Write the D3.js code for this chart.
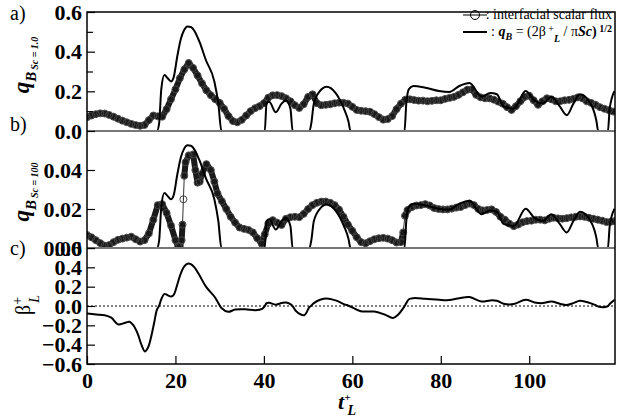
<!DOCTYPE html>
<meta charset="utf-8">
<script src="https://d3js.org/d3.v7.min.js"></script>
<style type="text/css">
body { margin: 0; background: #fff; }
svg text { font-family: "Liberation Serif", "Times New Roman", serif; fill: #000; }
.tick text { font-size: 22px; font-weight: bold; }
.tick line { stroke: #000; stroke-width: 1.2; }
.flux { fill: none; stroke: #000; stroke-width: 1; }
.qline { fill: none; stroke: #000; stroke-width: 2; }
</style>
<body>
<div id="canvas"></div>
<script>

// time axis of beta+_L
var tBeta = [0, 2, 4, 5.5, 7, 8.5, 9.6, 10.5, 11.5, 12.3, 13.1, 13.8, 14.5, 15.2, 15.8, 16.3, 16.8, 17.5, 18.3, 19.0, 19.6,
  20.4, 21.2, 22, 22.7, 23.5, 24.3, 25.4, 26.9, 28.8, 29.7, 30.4, 31.9, 33.5, 35.8, 38.1, 39.6, 40.2, 40.6, 41.2, 42.7,
  44, 45, 46.0, 46.5, 47.3, 49.1, 50.3, 50.7, 51.3, 52.7, 54.2, 56.2, 58.1, 59.1, 59.6, 61.9, 65, 67.3, 69.2, 70.4,
  71.8, 72.2, 72.8, 73.8, 76.5, 79.6, 81.9, 84.2, 86.5, 89.2, 91.2, 92.7, 94.2, 96.5, 99.2, 101.2, 103.1, 105, 106.9,
  108.5, 110, 111.5, 114.2, 115.2, 115.6, 116.9, 117.8, 118.2, 119.3];
var beta = [-0.078, -0.088, -0.095, -0.12, -0.19, -0.175, -0.163, -0.2, -0.29, -0.40, -0.47, -0.43, -0.32, -0.17, -0.04, 0.002, 0.07, 0.125, 0.11, 0.098, 0.115,
  0.22, 0.336, 0.41, 0.437, 0.432, 0.40, 0.32, 0.2, 0.098, 0.03, -0.02, -0.06, -0.037, -0.034, -0.044, -0.03, -0.001, 0.03, 0.034, 0.014,
  0.03, 0.037, 0.02, -0.002, -0.054, -0.095, -0.01, 0.002, 0.03, 0.064, 0.078, 0.058, 0.02, 0.004, -0.005, -0.054, -0.058, -0.088, -0.125, -0.088,
  -0.002, 0.03, 0.07, 0.081, 0.075, 0.064, 0.061, 0.081, 0.092, 0.047, 0.058, 0.054, 0.024, 0.02, 0.064, 0.037, 0.03, 0.047, 0.024,
  0.01, 0.03, 0.054, 0.024, 0.004, -0.005, -0.012, -0.002, 0.02, 0.064];

// interfacial scalar flux, Sc = 1.0 (one value per unit of t+_L, from t = 0)
var flux1 = [0.069, 0.078, 0.085, 0.089, 0.088, 0.081, 0.072, 0.062, 0.052, 0.044, 0.036, 0.030, 0.026, 0.03, 0.055, 0.078, 0.074, 0.072, 0.11, 0.16,
  0.21, 0.266, 0.31, 0.343, 0.318, 0.28, 0.24, 0.205, 0.18, 0.16, 0.142, 0.112, 0.075, 0.05, 0.044, 0.056, 0.078, 0.1, 0.115, 0.125,
  0.14, 0.168, 0.18, 0.181, 0.176, 0.165, 0.15, 0.13, 0.116, 0.135, 0.172, 0.185, 0.14, 0.13, 0.132, 0.135, 0.14, 0.143, 0.142, 0.138,
  0.122, 0.106, 0.102, 0.1, 0.097, 0.085, 0.07, 0.057, 0.06, 0.075, 0.11, 0.138, 0.158, 0.16, 0.156, 0.153, 0.153, 0.15, 0.152, 0.155,
  0.155, 0.162, 0.167, 0.172, 0.182, 0.195, 0.208, 0.21, 0.182, 0.17, 0.165, 0.165, 0.158, 0.148, 0.138, 0.12, 0.106, 0.125, 0.15, 0.172,
  0.178, 0.155, 0.132, 0.15, 0.165, 0.16, 0.15, 0.15, 0.155, 0.157, 0.162, 0.17, 0.165, 0.15, 0.142, 0.132, 0.12, 0.112, 0.105, 0.098];

// interfacial scalar flux, Sc = 100
var tFlux100 = [0, 1, 2, 3, 4, 5, 6, 7, 8, 9, 10, 11, 12, 13, 14, 15, 16, 17, 18, 19, 20, 20.6, 21, 21.4, 21.6, 21.8, 22, 22.3, 23, 24,
  24.5, 25, 25.5, 26, 27, 28, 28.8, 29.5, 30.5, 31.5, 32.5, 33.5, 34.5, 35.5, 36.5, 37.5, 38.5, 39.5, 40.2, 41, 42, 43, 44, 45, 46,
  47, 48, 49, 50, 51, 52, 53, 54, 55, 56, 57, 58, 59, 60, 61, 62, 63, 64, 65, 66, 67, 68, 69, 70, 71, 71.5, 71.9, 72.5, 73.5, 74.5,
  75.5, 76.5, 77.5, 78.5, 79.5, 80.5, 81.5, 82.5, 83.5, 84.5, 85.5, 86.5, 87.5, 88.5, 89.5, 90.5, 91.5, 92.5, 93.5, 94.5, 95.5, 96.5,
  97.5, 98.5, 99.5, 100.5, 101.5, 102.5, 103.5, 104.5, 105.5, 106.5, 107.5, 108.5, 109.5, 110.5, 111.5, 112.5, 113.5, 114.5, 115.5,
  116.5, 117.5, 118.5, 119.3];
var flux100 = [0.0067, 0.0055, 0.004, 0.0025, 0.0012, 0.0015, 0.003, 0.0042, 0.0048, 0.0053, 0.0058, 0.0045, 0.0033, 0.004, 0.0075, 0.0145, 0.022, 0.0225, 0.018, 0.0115, 0.004, 0.0008, 0.0008, 0.004, 0.012, 0.025, 0.037, 0.044, 0.0475, 0.048,
  0.04, 0.0335, 0.034, 0.038, 0.043, 0.04, 0.034, 0.028, 0.024, 0.02, 0.016, 0.013, 0.0105, 0.0098, 0.0093, 0.008, 0.005, 0.0022, 0.007, 0.0125, 0.0143, 0.013, 0.0118, 0.015, 0.0158,
  0.016, 0.0158, 0.0175, 0.02, 0.022, 0.0232, 0.0238, 0.0238, 0.0232, 0.022, 0.0197, 0.016, 0.012, 0.0088, 0.0055, 0.003, 0.0024, 0.0035, 0.0045, 0.005, 0.0052, 0.0048, 0.004, 0.0028, 0.003, 0.008, 0.0165, 0.0195, 0.021, 0.0218,
  0.022, 0.0225, 0.0218, 0.0205, 0.02, 0.0198, 0.0198, 0.0202, 0.0207, 0.021, 0.022, 0.0228, 0.022, 0.02, 0.0193, 0.0195, 0.0198, 0.0185, 0.016, 0.0145, 0.0125, 0.0112,
  0.012, 0.0132, 0.0138, 0.014, 0.0145, 0.0145, 0.0142, 0.015, 0.0155, 0.0152, 0.015, 0.0153, 0.0157, 0.016, 0.0162, 0.016, 0.0155, 0.015, 0.0145,
  0.014, 0.0133, 0.0135, 0.0138];

var xTicks = [0, 20, 40, 60, 80, 100];
var ticksA = [0, 0.2, 0.4, 0.6], minorA = [0.1, 0.3, 0.5];
var ticksB = [0, 0.02, 0.04];
var ticksC = [-0.6, -0.4, -0.2, 0, 0.2, 0.4, 0.6];

var width = 619, height = 418;
var pLeft = 87, pRight = 615, pTop = 12, pBottom = 364;
var serif = '"Liberation Serif", "Times New Roman", serif';

var svg = d3.select('#canvas').append('svg')
  .attr('width', width).attr('height', height)
  .attr('font-family', serif);

var x = d3.scaleLinear().domain([0, 119.4]).range([pLeft, pRight]);
var ya = d3.scaleLinear().domain([0, 0.6]).range([131, pTop]);
var yb = d3.scaleLinear().domain([0, 0.06]).range([248, 131]);
var yc = d3.scaleLinear().domain([-0.6, 0.6]).range([pBottom, 248]);

// clip for each panel
var defs = svg.append('defs');
[['ca', ya], ['cb', yb], ['cc', yc]].forEach(function(c) {
  var r = c[1].range();
  defs.append('clipPath').attr('id', c[0]).append('rect')
    .attr('x', pLeft).attr('y', r[1] - 1).attr('width', pRight - pLeft).attr('height', r[0] - r[1] + 2);
});

// q_B = (2 beta+_L / pi Sc)^(1/2), as the legend says
function qB(Sc) {
  return tBeta.map(function(t, i) { return [t, Math.sqrt(2 * Math.max(beta[i], 0) / (Math.PI * Sc))]; });
}

function panel(y, clip, fluxPts, Sc) {
  var g = svg.append('g').attr('clip-path', 'url(#' + clip + ')');
  var line = d3.line().x(function(d) { return x(d[0]); }).y(function(d) { return y(d[1]); });
  // segments: where markers crowd together the overlapping circles form a dark band
  var segs = d3.pairs(fluxPts);
  g.selectAll('path.seg').data(segs).enter().append('path')
    .attr('class', 'flux seg')
    .attr('d', function(d) { return line(d); })
    .style('stroke', '#1a1a1a')
    .style('stroke-linecap', 'round')
    .style('stroke-width', function(d) {
      var dx = x(d[1][0]) - x(d[0][0]), dy = y(d[1][1]) - y(d[0][1]);
      return Math.sqrt(dx * dx + dy * dy) < 16 ? 6 : 0.9;
    });
  g.selectAll('circle').data(fluxPts).enter().append('circle')
    .attr('class', 'flux')
    .attr('cx', function(d) { return x(d[0]); })
    .attr('cy', function(d) { return y(d[1]); })
    .attr('r', 3.5)
    .style('stroke', '#444');
  g.append('path').attr('class', 'qline')
    .attr('d', line.curve(d3.curveMonotoneX)(qB(Sc)));
}

panel(ya, 'ca', flux1.map(function(v, i) { return [i, v]; }), 1);
panel(yb, 'cb', tFlux100.map(function(t, i) { return [t, flux100[i]]; }), 100);

// panel c: beta+_L
svg.append('line').attr('x1', pLeft).attr('x2', pRight).attr('y1', yc(0)).attr('y2', yc(0))
  .style('stroke', '#000').style('stroke-width', 1).style('stroke-dasharray', '2,2');
svg.append('path').attr('class', 'qline').attr('clip-path', 'url(#cc)')
  .attr('d', d3.line().curve(d3.curveCatmullRom)
    .x(function(d) { return x(d); })
    .y(function(d, i) { return yc(beta[i]); })(tBeta));

// frame
svg.append('line').attr('x1', pLeft).attr('x2', pRight).attr('y1', 131).attr('y2', 131).style('stroke', '#777').style('stroke-width', 2);
svg.append('line').attr('x1', pLeft).attr('x2', pRight).attr('y1', 248).attr('y2', 248).style('stroke', '#777').style('stroke-width', 2);
svg.append('rect').attr('x', pLeft).attr('y', pTop).attr('width', pRight - pLeft).attr('height', pBottom - pTop)
  .style('fill', 'none').style('stroke', '#000').style('stroke-width', 1.5);

// axes
function clean(g) {
  g.attr('font-family', null).attr('font-size', null);
  g.select('.domain').remove();
}
function yAxis(y, vals, fmt) {
  svg.append('g').attr('transform', 'translate(' + pLeft + ',0)')
    .call(d3.axisLeft(y).tickValues(vals).tickFormat(fmt).tickSizeInner(-8).tickSizeOuter(0).tickPadding(5))
    .call(clean);
}
yAxis(ya, ticksA, d3.format('.1f'));
svg.append('g').attr('transform', 'translate(' + pLeft + ',0)')
  .call(d3.axisLeft(ya).tickValues(minorA).tickFormat('').tickSizeInner(-6).tickSizeOuter(0))
  .call(clean);
yAxis(yb, ticksB, d3.format('.2f'));
yAxis(yc, ticksC, d3.format('.1f'));

svg.append('g').attr('transform', 'translate(0,' + pBottom + ')')
  .call(d3.axisBottom(x).tickValues(xTicks).tickSizeInner(-8).tickSizeOuter(0).tickPadding(8))
  .call(clean);

// panel letters
[['a)', 20], ['b)', 131], ['c)', 255]].forEach(function(p) {
  svg.append('text').attr('x', 10).attr('y', p[1]).style('font-size', '20px').text(p[0]);
});

// y titles
function qTitle(cx, cy, sub) {
  var t = svg.append('text').attr('transform', 'translate(' + cx + ',' + cy + ') rotate(-90)')
    .attr('text-anchor', 'middle').style('font-weight', 'bold').style('font-style', 'italic');
  t.append('tspan').style('font-size', '23px').text('q');
  t.append('tspan').style('font-size', '15px').attr('dy', 7).text('B');
  t.append('tspan').style('font-size', '10px').attr('dy', 2).attr('dx', 2).text(sub);
}
qTitle(29, 65, 'Sc = 1.0');
qTitle(29, 192, 'Sc = 100');

var bt = svg.append('text').attr('transform', 'translate(30,305) rotate(-90)').attr('text-anchor', 'middle');
bt.append('tspan').style('font-size', '20px').text('\u03b2');
bt.append('tspan').style('font-size', '14px').attr('dy', -8).text('+');
bt.append('tspan').style('font-size', '14px').style('font-style', 'italic').attr('dy', 17).attr('dx', -6).text('L');

// x title
var xt = svg.append('text').attr('x', 338).attr('y', 409).style('font-weight', 'bold').style('font-style', 'italic');
xt.append('tspan').style('font-size', '22px').text('t');
xt.append('tspan').style('font-size', '11px').attr('dy', -8).text('+');
xt.append('tspan').style('font-size', '14px').attr('dy', 14).attr('dx', -3).text('L');

// legend
var lg = svg.append('g');
lg.append('line').attr('x1', 463).attr('x2', 487).attr('y1', 15).attr('y2', 15).style('stroke', '#000').style('stroke-width', 1);
lg.append('circle').attr('cx', 475).attr('cy', 15).attr('r', 4.5).style('fill', 'none').style('stroke', '#000').style('stroke-width', 1);
lg.append('text').attr('x', 612).attr('y', 19).attr('text-anchor', 'end').style('font-size', '14px').text(': interfacial scalar flux');
lg.append('line').attr('x1', 463).attr('x2', 487).attr('y1', 32).attr('y2', 32).style('stroke', '#000').style('stroke-width', 2);
var l2 = lg.append('text').attr('x', 612).attr('y', 36).attr('text-anchor', 'end').style('font-size', '14px');
l2.append('tspan').text(': ');
l2.append('tspan').style('font-weight', 'bold').style('font-style', 'italic').text('q');
l2.append('tspan').style('font-weight', 'bold').style('font-style', 'italic').style('font-size', '10px').attr('dy', 4).text('B');
l2.append('tspan').attr('dy', -4).text(' = (2\u03b2');
l2.append('tspan').style('font-size', '10px').attr('dy', -4).text(' +');
l2.append('tspan').style('font-weight', 'bold').style('font-style', 'italic').style('font-size', '10px').attr('dy', 10).text('L');
l2.append('tspan').attr('dy', -6).text(' / \u03c0');
l2.append('tspan').style('font-weight', 'bold').style('font-style', 'italic').text('Sc');
l2.append('tspan').style('font-weight', 'bold').text(')');
l2.append('tspan').style('font-weight', 'bold').style('font-size', '10px').attr('dy', -4).text(' 1/2');
</script>
</body>
